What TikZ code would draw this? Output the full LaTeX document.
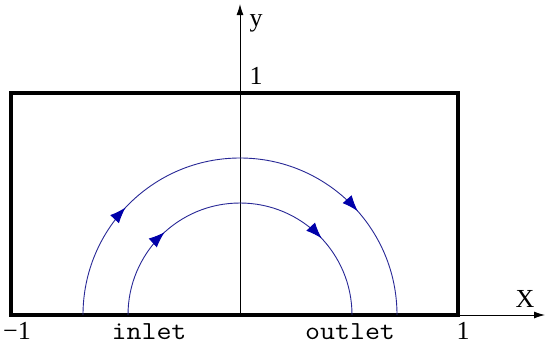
\documentclass[tikz,border=0pt]{standalone}
\usepackage{fontspec}
\setmainfont{Liberation Serif}
\usetikzlibrary{arrows.meta,decorations.markings}
\definecolor{flow}{RGB}{40,40,150}
\definecolor{tipc}{RGB}{0,0,170}
\begin{document}
\begin{tikzpicture}[x=1pt,y=-1pt,
  frame/.style={line width=3.4pt},
  axis/.style={line width=0.9pt,-{Latex[length=11pt,width=7pt]}},
  flowline/.style={flow,line width=0.9pt},
  lbl/.style={font=\fontsize{26}{26}\selectfont, inner sep=0pt, anchor=base},
  ttl/.style={font=\ttfamily\fontsize{26}{26}\selectfont, inner sep=0pt, anchor=base}]
\useasboundingbox (0,0) rectangle (546,346);
\coordinate (O) at (240,315);
\coordinate (SW) at (11,315);
\coordinate (NE) at (458,93);
\coordinate (xend) at (545,315);
\coordinate (ytop) at (240,4);
\coordinate (A1) at (83,315);
\coordinate (A2) at (128,315);
% frame
\draw[frame] (SW) rectangle (NE);
% axes
\draw[axis] (SW) -- (xend);
\draw[axis] (O) -- (ytop);
% flow lines
\tikzset{flowmarks/.style 2 args={postaction=decorate, decoration={markings,
   mark=at position #1 with {\arrow[tipc]{Latex[length=16pt,width=12pt]}},
   mark=at position #2 with {\arrow[tipc]{Latex[length=16pt,width=12pt]}}}}}
\draw[flowline, flowmarks={0.24}{0.77}]
  (A1) arc[start angle=180, end angle=360, radius=157];
\draw[flowline, flowmarks={0.265}{0.76}]
  (A2) arc[start angle=180, end angle=360, radius=112];
% labels
\node[lbl] (lm1) at (17,339) {−1};
\node[lbl] (lp1) at (463,339) {1};
\node[lbl] (ly1) at (256,84) {1};
\node[lbl] (lX) at (525,307) {X};
\node[lbl] (ly) at (256,26) {y};
\node[ttl] (inlet) at (149,339) {\scalebox{1.12}[1]{inlet}};
\node[ttl] (outlet) at (350,339) {\scalebox{1.12}[1]{outlet}};
\end{tikzpicture}
\end{document}
